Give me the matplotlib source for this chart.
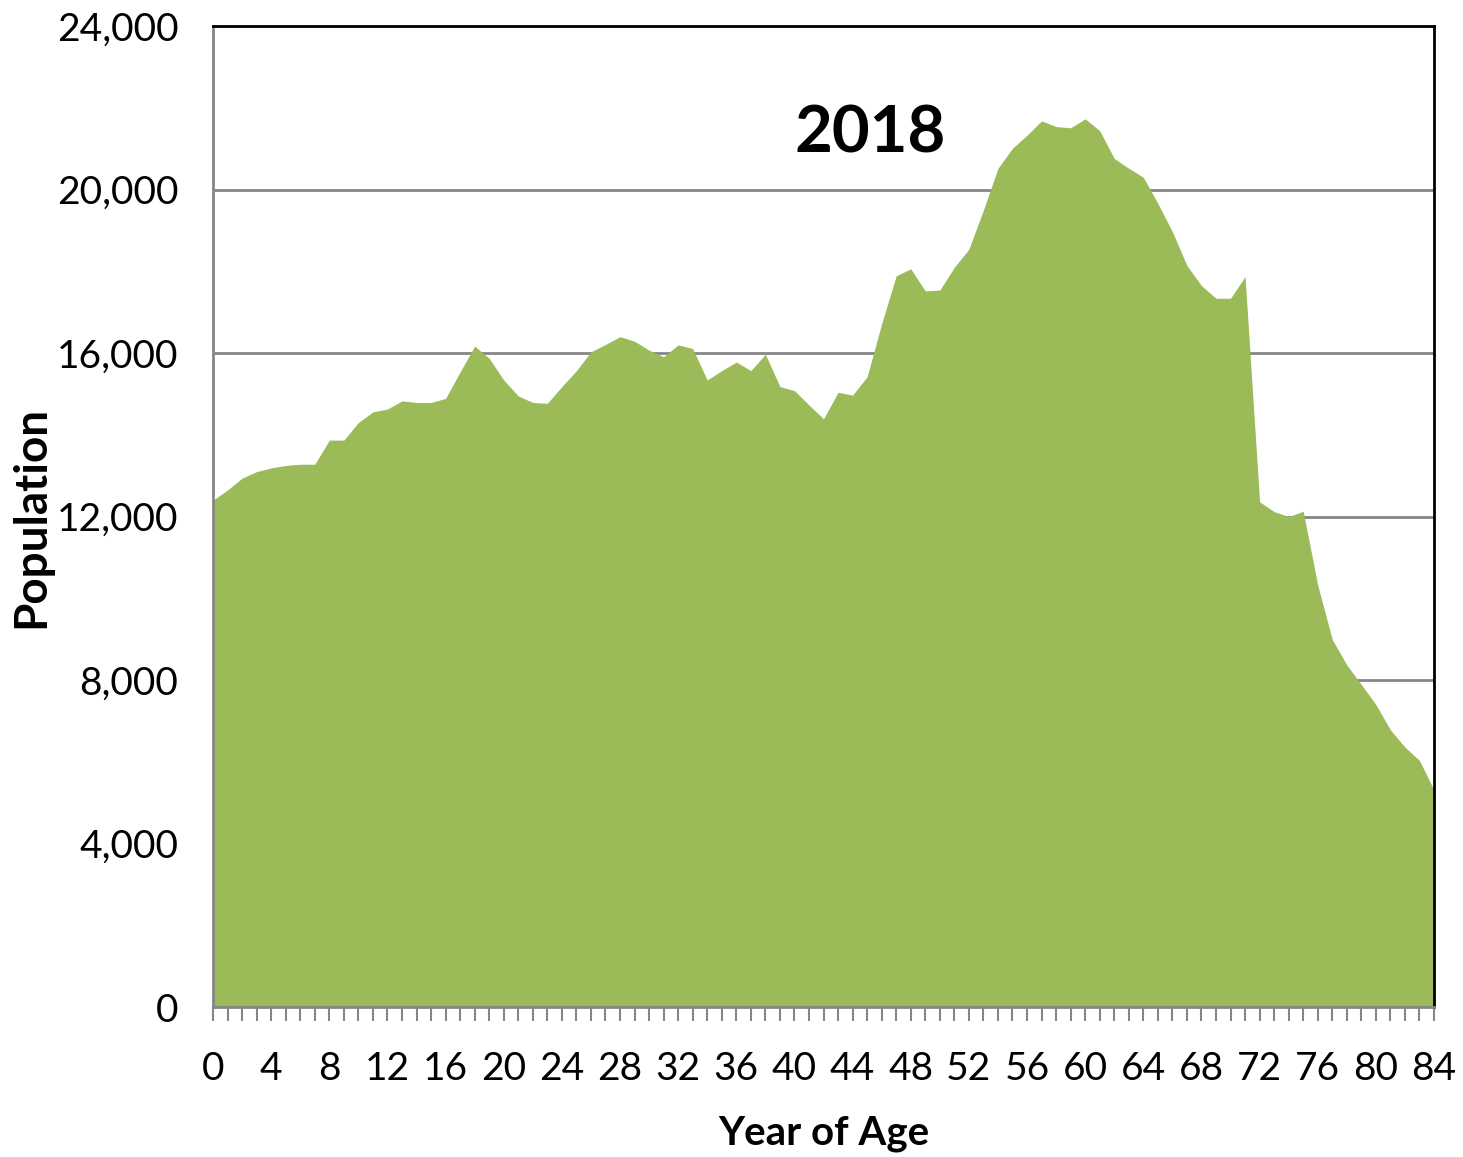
import numpy as np
import matplotlib
matplotlib.use('Agg')
import matplotlib.pyplot as plt
from matplotlib.ticker import FuncFormatter, MultipleLocator

#%% data (population by single year of age, 2018)
ages = np.arange(0, 85)
population = [
    12400, 12650, 12940, 13100, 13190, 13250, 13280, 13280, 13870, 13870,   # 0-9
    14300, 14560, 14630, 14830, 14790, 14790, 14890, 15540, 16170, 15870,   # 10-19
    15340, 14950, 14790, 14770, 15180, 15570, 16030, 16210, 16400, 16290,   # 20-29
    16070, 15910, 16200, 16110, 15340, 15570, 15780, 15570, 15970, 15180,   # 30-39
    15080, 14730, 14390, 15040, 14970, 15420, 16720, 17890, 18060, 17520,   # 40-49
    17540, 18100, 18540, 19500, 20520, 21010, 21330, 21680, 21540, 21510,   # 50-59
    21730, 21440, 20760, 20520, 20300, 19660, 18970, 18140, 17650, 17340,   # 60-69
    17340, 17870, 12360, 12120, 12000, 12130, 10320, 8990, 8370, 7890,      # 70-79
    7400, 6780, 6360, 6030, 5310,                                           # 80-84
]
year_label = '2018'
xtick_vals = np.arange(0, 85, 4)
ytick_vals = np.arange(0, 24001, 4000)

green = '#9BBB59'
gray = '#868686'
font = 'Lato'

fg = plt.figure(figsize=(14.63, 11.57), dpi=100)
ax = fg.add_axes([0.1456, 0.1296, 0.9802 - 0.1456, 0.9775 - 0.1296])

ax.fill_between(ages, population, 0, color=green, linewidth=0, zorder=2)

ax.set_xlim(0, 84)
ax.set_ylim(0, 24000)
ax.set_yticks(ytick_vals)
ax.set_xticks(xtick_vals)
ax.xaxis.set_minor_locator(MultipleLocator(1))
ax.yaxis.set_major_formatter(FuncFormatter(lambda v, p: '{:,.0f}'.format(v)))

ax.grid(axis='y', color=gray, linewidth=2, zorder=1)
ax.set_axisbelow(True)

ax.tick_params(axis='y', length=0, pad=25, labelsize=28)
ax.tick_params(axis='x', which='both', direction='out', length=10, width=1.5,
               color=gray, pad=22, labelsize=28)
for lbl in ax.get_xticklabels() + ax.get_yticklabels():
    lbl.set_fontfamily(font)

for s in ('left', 'bottom'):
    ax.spines[s].set_color(gray)
    ax.spines[s].set_linewidth(2)
for s in ('top', 'right'):
    ax.spines[s].set_color('black')
    ax.spines[s].set_linewidth(2)

ax.set_xlabel('Year of Age', fontfamily=font, fontweight='bold', fontsize=29, labelpad=20)
ax.set_ylabel('Population', fontfamily=font, fontweight='bold', fontsize=33, labelpad=3)

ax.text(45.2, 21350, year_label, fontfamily=font, fontweight='bold', fontsize=47,
        ha='center', va='center')

fg.savefig('out.png', dpi=100)
